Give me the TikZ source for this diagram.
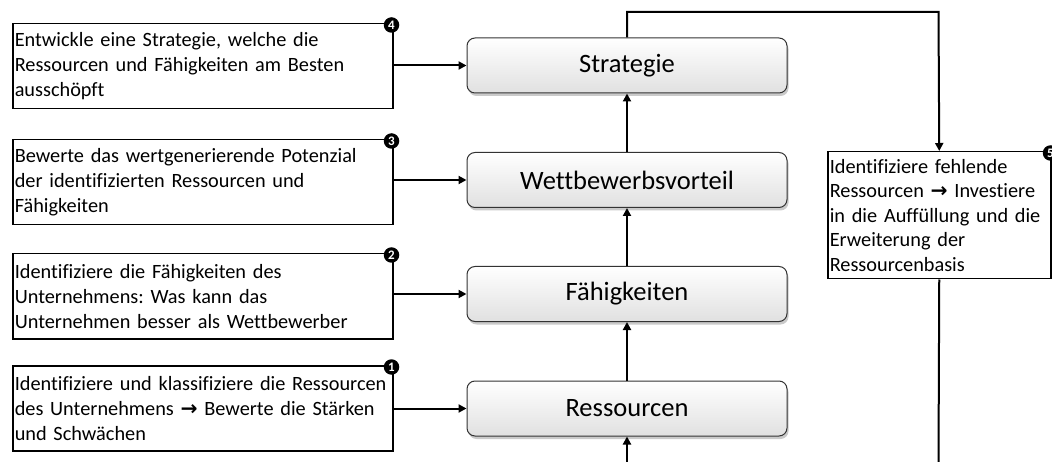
\documentclass[tikz,border=0pt]{standalone}
\usepackage{fontspec}
\setmainfont{Carlito}[Ligatures=NoCommon]
\newfontfamily\arrowfont{DejaVu Sans}
\usetikzlibrary{arrows.meta,shadows}
\newcommand\rarr{{\arrowfont\bfseries →}}
\frenchspacing
\begin{document}
\begin{tikzpicture}[x=1pt,y=-1pt,
  note/.style={draw, line width=1.5pt, anchor=north west, text width=376pt,
    inner xsep=2pt, inner ysep=1pt, minimum height=85pt, align=left,
    font=\fontsize{20.3}{25}\selectfont},
  stage/.style={draw=black!80, line width=1pt, rounded corners=8pt,
    minimum width=320pt, minimum height=55pt, top color=white,
    bottom color=black!12,
    drop shadow={shadow xshift=1.5pt, shadow yshift=-3pt, opacity=0.35, fill=black!60},
    font=\fontsize{26.5}{30}\selectfont},
  badge/.style={circle, fill=black, text=white, inner sep=0pt, minimum size=15.5pt,
    font=\bfseries\fontsize{13}{13}\selectfont},
  flow/.style={line width=2pt, -{Triangle[length=8pt,width=8pt]}},
  link/.style={line width=2pt}]
\useasboundingbox (0,0) rectangle (1052,462);

% central chain of stages
\node[stage] (s) at (627,65.5) {Strategie};
\node[stage] (w) at (627,180) {Wettbewerbsvorteil};
\node[stage] (f) at (627,294) {Fähigkeiten};
\node[stage] (r) at (627,408.5) {Ressourcen};

% step descriptions on the left
\node[note] (b4) at (12,23) {Entwickle eine Strategie, welche die\\Ressourcen und Fähigkeiten am Besten\\ausschöpft};
\node[note] (b3) at (12,139) {Bewerte das wertgenerierende Potenzial\\der identifizierten Ressourcen und\\Fähigkeiten};
\node[note] (b2) at (12,253) {Identifiziere die Fähigkeiten des\\Unternehmens: Was kann das\\Unternehmen besser als Wettbewerber};
\node[note] (b1) at (12,365) {Identifiziere und klassifiziere die Ressourcen\\des Unternehmens \rarr{} Bewerte die Stärken\\und Schwächen};

% feedback step on the right
\node[note, text width=219pt, minimum height=127pt, font=\fontsize{20.3}{24.5}\selectfont] (b5) at (827,151)
  {Identifiziere fehlende\\Ressourcen \rarr{} Investiere\\in die Auffüllung und die\\Erweiterung der\\Ressourcenbasis};

% step numbers
\node[badge] at ([xshift=-2pt,yshift=-2pt]b4.north east) {4};
\node[badge] at ([xshift=-2pt,yshift=-2pt]b3.north east) {3};
\node[badge] at ([xshift=-2pt,yshift=-2pt]b2.north east) {2};
\node[badge] at ([xshift=-2pt,yshift=-2pt]b1.north east) {1};
\node[badge] at ([xshift=-1pt,yshift=-2pt]b5.north east) {5};

% free ends and corner of the loop
\coordinate (turn) at (938.5,12);
\coordinate (rin) at (627,462);
\coordinate (out) at (938.5,462);

% connectors
\draw[flow] (b4.east |- s.west) -- (s.west);
\draw[flow] (b3.east |- w.west) -- (w.west);
\draw[flow] (b2.east |- f.west) -- (f.west);
\draw[flow] (b1.east |- r.west) -- (r.west);
\draw[flow] (r.north) -- (f.south);
\draw[flow] (f.north) -- (w.south);
\draw[flow] (w.north) -- (s.south);
\draw[flow] (rin) -- (r.south);
\draw[flow] (s.north) |- (turn) -- (b5.north);
\draw[link] (b5.south) -- (out);
\end{tikzpicture}
\end{document}
